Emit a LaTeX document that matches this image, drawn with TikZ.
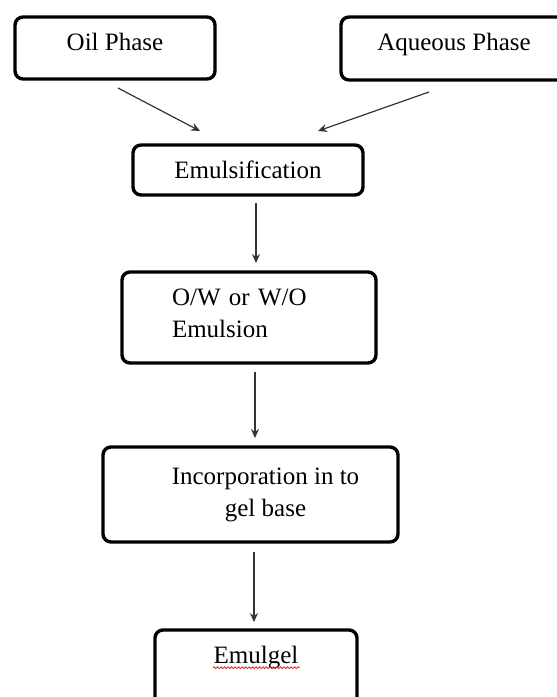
\documentclass[tikz,border=0pt]{standalone}
\usepackage{fontspec}
\setmainfont{Liberation Serif}
\usepackage{tikz}
\usetikzlibrary{positioning, arrows.meta, decorations.pathmorphing}
\definecolor{flowgray}{HTML}{333333}
\definecolor{spellred}{HTML}{E02020}
\tikzset{
  >={Stealth[length=9pt, width=8pt, inset=3pt]},
  every node/.style={font=\fontsize{25}{32}\selectfont},
  stepbox/.style={
    rectangle, rounded corners=8pt, draw=black, line width=3.4pt,
    inner sep=0pt, outer sep=0pt, align=center
  },
  flowarrow/.style={->, flowgray, line width=1.2pt},
  spellmark/.style={spellred, line width=0.8pt, decorate,
    decoration={snake, amplitude=0.9pt, segment length=3.5pt}}
}

\begin{document}
\begin{tikzpicture}[x=1pt, y=-1pt, node distance=80pt]
\useasboundingbox (0,0) rectangle (557,697);
\clip (0,0) rectangle (557,697);
\node[stepbox, minimum width=200pt, minimum height=62pt, text depth=12pt]
   (oil) at (115,48) {Oil Phase};
\node[stepbox, minimum width=226pt, minimum height=63pt, text depth=13pt]
   (aqueous) at (454,48.5) {Aqueous Phase};

\node[stepbox, minimum width=230pt, minimum height=50pt]
   (emul) at (248,170) {Emulsification};
\node[stepbox, below=77pt of emul, xshift=1pt, minimum width=254pt,
      minimum height=91pt, text width=154pt, inner xsep=50pt, align=left,
      text depth=40pt]
   (emulsion) {O/W or W/O\\Emulsion};
\node[stepbox, below=84pt of emulsion, xshift=1.5pt, minimum width=295pt,
      minimum height=95pt]
   (gelbase) {\hspace*{30pt}Incorporation in to\\\hspace*{30pt}gel base};
\node[stepbox, below=88pt of gelbase, xshift=5.5pt, minimum width=202pt,
      minimum height=80pt, text depth=30pt]
   (emulgel) {Emulgel};

\draw[flowarrow] ([shift={(3pt,-9pt)}]oil.south) -- ([shift={(-48pt,14pt)}]emul.north);
\draw[flowarrow] ([shift={(-25pt,-12pt)}]aqueous.south) -- ([shift={(70pt,14pt)}]emul.north);
\draw[flowarrow, shorten <=8pt, shorten >=9pt] ([xshift=8pt]emul.south) -- ([xshift=7pt]emulsion.north);
\draw[flowarrow, shorten <=9pt, shorten >=9pt] ([xshift=6pt]emulsion.south) -- ([xshift=4.5pt]gelbase.north);
\draw[flowarrow, shorten <=10pt, shorten >=8pt] ([xshift=3.5pt]gelbase.south) -- ([xshift=-2pt]emulgel.north);
\draw[spellmark] ([shift={(-43pt,-4pt)}]emulgel.base) -- ([shift={(44pt,-4pt)}]emulgel.base);
\end{tikzpicture}
\end{document}
